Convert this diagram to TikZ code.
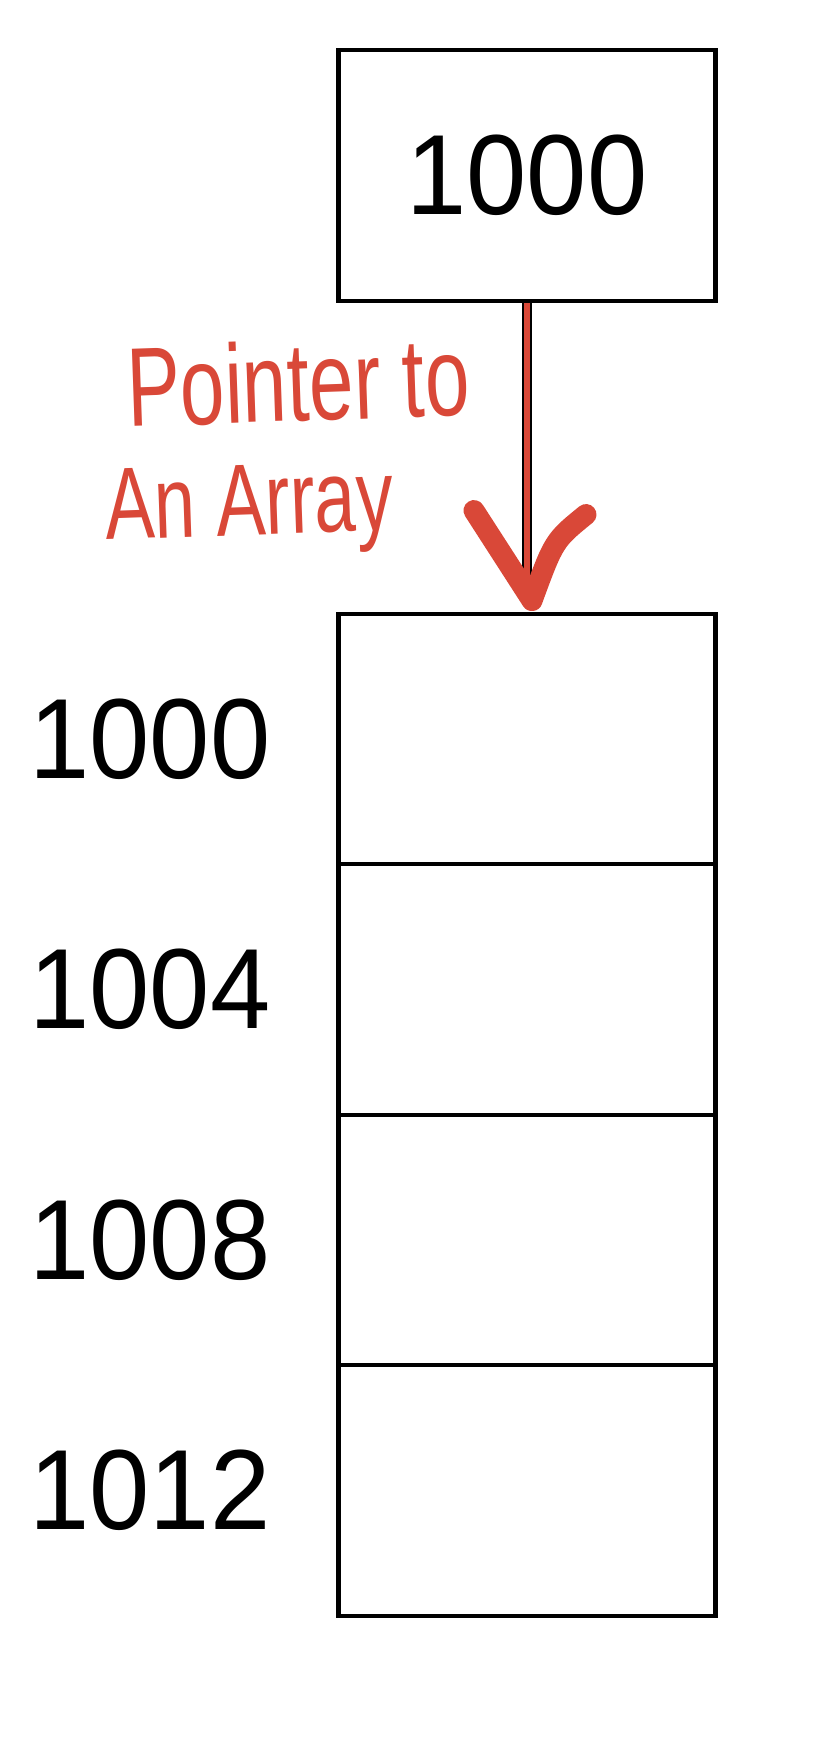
\documentclass[tikz,border=0pt]{standalone}
\usepackage{fontspec}
\setmainfont{Liberation Sans}
\usepackage{graphicx}
\usetikzlibrary{calc, positioning}
\definecolor{penred}{RGB}{217,72,56}

\begin{document}
\begin{tikzpicture}[x=0.5pt, y=-0.5pt,
    cell/.style={draw, line width=2.2pt, minimum width=188.5pt, minimum height=125.25pt, inner sep=0pt},
    num/.style={font=\fontsize{57}{60}\selectfont, inner sep=0pt},
    hand/.style={penred, font=\fontsize{50}{55}\selectfont, inner sep=0pt, anchor=base west, rotate=2}]
  \useasboundingbox (0,0) rectangle (838,1748);
  % pointer variable
  \node[cell, num] (ptr) at (527,175.5) {\scalebox{0.95}[1]{1000}};
  % array cells and their addresses
  \foreach \i/\addr in {0/1000,1/1004,2/1008,3/1012} {
    \node[cell] (c\i) at (527,{739+250.5*\i}) {};
    \node[num] (a\i) at (150,{739+250.5*\i}) {\scalebox{0.95}[1]{\addr}};
  }
  % arrow, hand drawn head
  \coordinate (tip) at ($(c0.north)+(5,-11)$);
  \draw[black, line width=4.6pt] (ptr.south) -- (ptr.south |- tip);
  \draw[penred, line width=3.4pt] (ptr.south) -- (ptr.south |- tip);
  \draw[penred, line width=10.5pt, line cap=round, line join=round]
    ($(tip)+(-58,-90)$) -- (tip) .. controls ($(tip)+(22,-60)$) .. ($(tip)+(54,-86)$);
  % note
  \node[hand] (t1) at (128,427) {\scalebox{0.8}[1.12]{Pointer to}};
  \node[hand] (t2) at (106,540) {\scalebox{0.74}[1.02]{An Array}};
\end{tikzpicture}
\end{document}
